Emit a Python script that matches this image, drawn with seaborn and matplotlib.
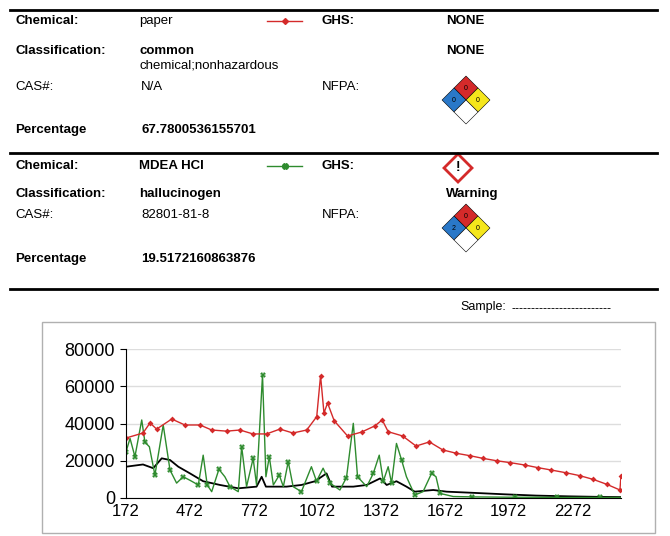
import matplotlib
matplotlib.use("Agg")
import matplotlib.pyplot as plt
import seaborn as sns
import pandas as pd
from matplotlib.patches import Polygon, Rectangle
from matplotlib.lines import Line2D

plt.rcParams["font.family"] = "Liberation Sans"

paper_x = [172,252,285,316,387,449,520,575,645,708,769,833,896,957,1022,1069,1087,1103,1120,1151,1214,1280,1342,1377,1405,1473,1536,1599,1662,1726,1790,1850,1915,1978,2048,2109,2173,2239,2306,2369,2432,2495,2500]
paper_y = [32200,34900,40300,37000,42400,39200,39200,36500,35900,36500,34400,34400,37000,34900,36500,43700,65700,45600,51000,41500,33300,35400,38700,41900,35600,33300,27900,30100,25800,24000,22700,21300,20000,19000,17700,16300,15000,13600,12000,10000,7400,4300,12000]

mdea_x = [172,191,214,246,261,282,308,347,379,410,441,473,512,535,554,575,609,637,661,700,716,739,770,786,814,830,846,865,893,912,935,958,997,1044,1068,1099,1131,1178,1209,1241,1261,1304,1335,1363,1382,1405,1421,1444,1468,1491,1530,1569,1609,1630,1648,1711,1800,1900,2000,2100,2200,2300,2400,2500]
mdea_y = [24800,32000,22200,41900,30000,27500,12300,39200,15000,8000,11400,9500,7000,23000,7000,3400,15400,11400,6100,3400,27500,6100,21300,7000,66000,11400,22200,7000,12300,6100,19500,6100,3400,16800,9000,16000,8000,4300,11000,40100,11400,6100,13200,23000,9000,16800,8000,29300,20400,11400,1600,3400,13200,11400,2500,800,600,500,400,400,300,300,300,300]

mix_x = [172,252,300,340,379,418,473,535,614,700,786,810,830,927,997,1061,1115,1141,1241,1304,1367,1398,1444,1491,1530,1617,1680,1800,1950,2100,2250,2400,2500]
mix_y = [16800,18000,16000,21300,20400,16800,13200,9000,7000,5200,6100,11400,6100,6100,7000,9000,13200,6100,6100,7000,10500,7000,9000,6100,3400,4300,3400,2800,2000,1300,900,600,500]

x_ticks = [172,472,772,1072,1372,1672,1972,2272]
y_ticks = [0,20000,40000,60000,80000]

W, H = 670, 536
fig = plt.figure(figsize=(6.7, 5.36), dpi=100)

def P(x, y):
    return (x / W, 1 - y / H)

def txt(x, y, s, bold=False, size=9.5, **kw):
    fig.text(*P(x, y), s, fontsize=size, fontweight="bold" if bold else "normal",
             va="center", ha=kw.pop("ha", "left"), **kw)

def hline(y, lw=2):
    fig.add_artist(Line2D([10/W, 657/W], [1-y/H]*2, color="black", lw=lw, transform=fig.transFigure))

def nfpa(cx, cy, blue, red="0", yellow="0"):
    s = 12
    def q(dx, dy, color):
        pts = [(cx+dx, cy+dy), (cx+dx+s, cy+dy+s), (cx+dx, cy+dy+2*s), (cx+dx-s, cy+dy+s)]
        fig.add_artist(Polygon([P(*p) for p in pts], closed=True, facecolor=color,
                               edgecolor="black", lw=0.4, transform=fig.transFigure))
    q(0, -24, "#d42a2a")
    q(-12, -12, "#2a78c8")
    q(12, -12, "#f5e61c")
    q(0, 0, "white")
    fig.text(*P(cx, cy-12), red, fontsize=5, ha="center", va="center")
    fig.text(*P(cx-12, cy), blue, fontsize=5, ha="center", va="center")
    fig.text(*P(cx+12, cy), yellow, fontsize=5, ha="center", va="center")

hline(10); hline(153); hline(289)

# block 1
txt(15, 21, "Chemical:", True); txt(139, 21, "paper")
fig.add_artist(Line2D([267/W, 302/W], [1-21/H]*2, color="#d42a2a", lw=1, transform=fig.transFigure))
fig.add_artist(Line2D([284.5/W], [1-21/H], color="#d42a2a", marker="D", markersize=3, transform=fig.transFigure))
txt(322, 21, "GHS:", True); txt(446, 21, "NONE", True)
txt(15, 51, "Classification:", True); txt(139, 51, "common", True); txt(139, 66, "chemical;nonhazardous")
txt(446, 51, "NONE", True)
txt(15, 87, "CAS#:"); txt(141, 87, "N/A"); txt(322, 87, "NFPA:")
nfpa(466, 100, "0")
txt(15, 130, "Percentage", True); txt(141, 130, "67.7800536155701", True)

# block 2
txt(15, 166, "Chemical:", True); txt(139, 166, "MDEA HCl", True)
fig.add_artist(Line2D([267/W, 302/W], [1-166/H]*2, color="#2e8b2e", lw=1, transform=fig.transFigure))
fig.add_artist(Line2D([284.5/W], [1-166/H], color="#2e8b2e", marker="X", markersize=4, transform=fig.transFigure))
txt(322, 166, "GHS:", True)
gp = [(458, 154), (472, 168), (458, 182), (444, 168)]
fig.add_artist(Polygon([P(*p) for p in gp], closed=True, facecolor="white", edgecolor="#d42a2a", lw=2,
                       transform=fig.transFigure))
fig.text(*P(458, 167), "!", fontsize=10, fontweight="bold", ha="center", va="center")
txt(446, 194, "Warning", True)
txt(15, 194, "Classification:", True); txt(139, 194, "hallucinogen", True)
txt(15, 215, "CAS#:"); txt(141, 215, "82801-81-8"); txt(322, 215, "NFPA:")
nfpa(466, 228, "2")
txt(15, 259, "Percentage", True); txt(141, 259, "19.5172160863876", True)

txt(460, 307, "Sample:", size=9)
txt(512, 309, "-" * 25, size=9)

fig.add_artist(Rectangle(P(42, 533), 613/W, 211/H, fill=False, edgecolor="#b0b0b0", lw=1,
                         transform=fig.transFigure))

ax = fig.add_axes([126/W, 38/H, 495/W, 149/H])
sns.lineplot(x=mix_x, y=mix_y, ax=ax, color="black", lw=1.3)
sns.lineplot(x=mdea_x, y=mdea_y, ax=ax, color="#2e8b2e", lw=1, marker="X", markersize=4,
             markeredgewidth=0, markevery=2)
sns.lineplot(x=paper_x, y=paper_y, ax=ax, color="#d42a2a", lw=1, marker="D", markersize=3,
             markeredgewidth=0)
ax.set_xlim(172, 2500)
ax.set_ylim(0, 80000)
ax.set_xticks(x_ticks)
ax.set_yticks(y_ticks)
ax.set_yticklabels([str(v) for v in y_ticks], fontsize=13)
ax.set_xticklabels([str(v) for v in x_ticks], fontsize=12)
ax.yaxis.grid(True, color="#dddddd", lw=1)
ax.set_axisbelow(True)
for s in ["top", "right"]:
    ax.spines[s].set_visible(False)
ax.tick_params(axis="x", length=0, pad=4)
ax.tick_params(axis="y", length=4, pad=4)

fig.savefig("out.png", dpi=100)
